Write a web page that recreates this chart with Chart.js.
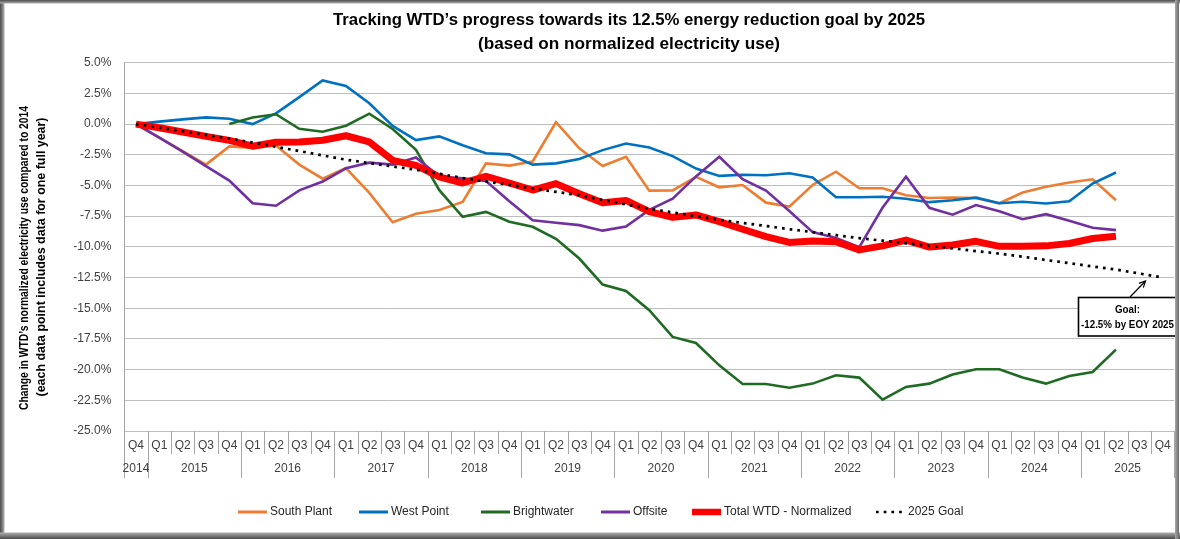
<!DOCTYPE html>
<html>
<head>
<meta charset="utf-8">
<script src="https://cdn.jsdelivr.net/npm/chart.js@4.4.1/dist/chart.umd.min.js"></script>
<style>
html,body{margin:0;padding:0;background:#fff;}
#wrap{width:1180px;height:539px;position:relative;}
canvas{display:block;}
</style>
</head>
<body>
<div id="wrap"><canvas id="c" width="1180" height="539"></canvas></div>
<script>
// ---------- DATA ----------
const years = ['2014','2015','2016','2017','2018','2019','2020','2021','2022','2023','2024','2025'];
const quarterLabels = [
  ['Q4'],
  ['Q1','Q2','Q3','Q4'], ['Q1','Q2','Q3','Q4'], ['Q1','Q2','Q3','Q4'], ['Q1','Q2','Q3','Q4'],
  ['Q1','Q2','Q3','Q4'], ['Q1','Q2','Q3','Q4'], ['Q1','Q2','Q3','Q4'], ['Q1','Q2','Q3','Q4'],
  ['Q1','Q2','Q3','Q4'], ['Q1','Q2','Q3','Q4'], ['Q1','Q2','Q3','Q4']
];
const yTicks = {min: -25, max: 5, step: 2.5};

const southPlant = [0,-1.1,-2.2,-3.3,-1.82,-1.95,-1.75,-3.3,-4.45,-3.58,-5.6,-8.0,-7.3,-7.0,-6.35,-3.2,-3.38,-3.05,0.15,-1.98,-3.42,-2.66,-5.42,-5.4,-4.3,-5.15,-4.96,-6.4,-6.72,-4.96,-3.88,-5.23,-5.23,-5.8,-6.02,-5.98,-6.02,-6.45,-5.58,-5.1,-4.76,-4.5,-6.2,null,null];
const westPoint = [0,0.2,0.38,0.55,0.43,0,0.87,2.2,3.55,3.1,1.7,-0.15,-1.3,-1.0,-1.72,-2.38,-2.47,-3.3,-3.2,-2.85,-2.12,-1.58,-1.9,-2.61,-3.62,-4.22,-4.13,-4.17,-4.01,-4.35,-5.96,-5.96,-5.92,-6.08,-6.36,-6.21,-5.99,-6.45,-6.33,-6.47,-6.28,-4.84,-3.94,null,null];
const brightwater = [null,null,null,null,0,0.53,0.8,-0.38,-0.62,-0.13,0.85,-0.4,-2.1,-5.38,-7.55,-7.15,-7.96,-8.37,-9.35,-10.95,-13.07,-13.6,-15.16,-17.34,-17.83,-19.65,-21.17,-21.17,-21.47,-21.14,-20.46,-20.65,-22.45,-21.41,-21.14,-20.4,-19.97,-19.97,-20.65,-21.14,-20.52,-20.19,-18.37,null,null];
const offsite = [0,-1.1,-2.25,-3.42,-4.6,-6.45,-6.65,-5.4,-4.68,-3.6,-3.14,-3.3,-2.72,-4.28,-4.42,-4.63,-6.28,-7.83,-8.04,-8.23,-8.68,-8.35,-6.99,-6.08,-4.26,-2.66,-4.49,-5.42,-7.08,-8.8,-9.27,-10.03,-6.8,-4.28,-6.82,-7.38,-6.6,-7.1,-7.75,-7.34,-7.88,-8.45,-8.64,null,null];
const totalWTD = [0,-0.3,-0.65,-1.0,-1.33,-1.8,-1.48,-1.45,-1.32,-0.95,-1.45,-2.95,-3.37,-4.3,-4.8,-4.25,-4.8,-5.37,-4.85,-5.68,-6.4,-6.22,-7.13,-7.6,-7.4,-7.95,-8.57,-9.17,-9.64,-9.52,-9.58,-10.25,-9.92,-9.45,-10.02,-9.85,-9.55,-9.96,-9.96,-9.92,-9.73,-9.32,-9.13,null,null];
const goal2025 = [0,-0.28,-0.58,-0.88,-1.18,-1.5,-1.85,-2.2,-2.55,-2.9,-3.17,-3.45,-3.72,-4.05,-4.4,-4.68,-4.95,-5.25,-5.52,-5.8,-6.18,-6.55,-6.9,-7.2,-7.5,-7.8,-8.05,-8.3,-8.56,-8.8,-9.05,-9.29,-9.5,-9.71,-9.92,-10.12,-10.35,-10.55,-10.8,-11.07,-11.33,-11.6,-11.85,-12.17,-12.5];

const seriesNames = ['South Plant','West Point','Brightwater','Offsite','Total WTD - Normalized','2025 Goal'];
const titleLines = ['Tracking WTD\u2019s progress towards its 12.5% energy reduction goal by 2025','(based on normalized electricity use)'];
const yTitleLines = ['Change in WTD\u2019s normalized electricity use compared to 2014','(each data point includes data for one full year)'];
const goalNote = ['Goal:','-12.5% by EOY 2025'];

// ---------- BUILD ----------
const categories = [];
quarterLabels.forEach((qs, j) => qs.forEach(q => categories.push([q, years[j]])));

const COLORS = ['#ED7D31','#0070C0','#1F6B23','#7030A0','#FF0000','#000000'];
const WIDTHS = [2.6,2.6,2.6,2.6,7,2.7];
const values = [southPlant, westPoint, brightwater, offsite, totalWTD, goal2025];

const datasets = values.map((d, k) => ({
  label: seriesNames[k],
  data: d,
  borderColor: COLORS[k],
  backgroundColor: COLORS[k],
  borderWidth: WIDTHS[k],
  borderDash: k === 5 ? [2.7, 5] : [],
  borderCapStyle: 'butt',
  borderJoinStyle: k === 4 ? 'round' : 'miter',
  pointRadius: 0,
  pointHoverRadius: 0,
  tension: 0,
  spanGaps: false,
  fill: false,
  order: 5 - k
}));

const FONT = '"Liberation Sans", Arial, sans-serif';

function fitText(ctx, text, cx, cy, w) {
  const m = ctx.measureText(text).width;
  ctx.save();
  ctx.translate(cx, cy);
  ctx.scale(w / m, 1);
  ctx.fillText(text, 0, 0);
  ctx.restore();
  return w / m;
}

const decor = {
  id: 'decor',
  beforeDraw(chart) {
    const c = chart.ctx;
    c.save(); c.fillStyle = '#fff'; c.fillRect(0, 0, chart.width, chart.height); c.restore();
  },
  afterDraw(chart) {
    const ctx = chart.ctx, xs = chart.scales.x, ca = chart.chartArea;
    ctx.save();
    // x-axis category boxes
    const p0 = xs.getPixelForValue(0), step = xs.getPixelForValue(1) - p0;
    const base = ca.bottom;
    const yearStart = new Set();
    let k = 0;
    quarterLabels.forEach(g => { yearStart.add(k); k += g.length; });
    yearStart.add(k);
    ctx.strokeStyle = '#a6a6a6'; ctx.lineWidth = 1;
    for (let i = 0; i <= categories.length; i++) {
      const bx = Math.round(p0 - step / 2 + i * step) + 0.5;
      const len = yearStart.has(i) ? 47 : 23;
      ctx.beginPath(); ctx.moveTo(bx, base); ctx.lineTo(bx, base + len); ctx.stroke();
    }
    ctx.fillStyle = '#404040';
    ctx.font = '12px ' + FONT;
    ctx.textAlign = 'center'; ctx.textBaseline = 'middle';
    categories.forEach((lab, i) => ctx.fillText(lab[0], xs.getPixelForValue(i), base + 15));
    k = 0;
    quarterLabels.forEach((g, j) => {
      const cx = (xs.getPixelForValue(k) + xs.getPixelForValue(k + g.length - 1)) / 2;
      ctx.fillText(years[j], cx, base + 38);
      k += g.length;
    });

    // title
    ctx.fillStyle = '#000';
    ctx.font = 'bold 17px ' + FONT;
    ctx.textBaseline = 'alphabetic';
    fitText(ctx, titleLines[0], 629, 25, 592);
    fitText(ctx, titleLines[1], 629, 48.5, 302);

    // y-axis title
    ctx.font = 'bold 12px ' + FONT;
    ctx.textBaseline = 'middle';
    const yt = [[25, 258, 304], [42, 257, 279]];
    yTitleLines.forEach((t, i) => {
      ctx.save();
      ctx.translate(yt[i][0], yt[i][1]);
      ctx.rotate(-Math.PI / 2);
      fitText(ctx, t, 0, 0, yt[i][2]);
      ctx.restore();
    });

    // legend
    const starts = [238, 359, 481, 601, 692, 876];
    const ly = 512;
    ctx.font = '12px ' + FONT;
    ctx.textAlign = 'left'; ctx.textBaseline = 'middle';
    seriesNames.forEach((name, i) => {
      const x0 = starts[i];
      ctx.save();
      ctx.strokeStyle = COLORS[i];
      ctx.lineWidth = i === 4 ? 6.5 : (i === 5 ? 2.7 : 3);
      ctx.setLineDash(i === 5 ? [2.7, 5] : []);
      ctx.beginPath(); ctx.moveTo(x0, ly); ctx.lineTo(x0 + 29, ly); ctx.stroke();
      ctx.restore();
      ctx.fillStyle = '#262626';
      ctx.fillText(name, x0 + 32, ly);
    });

    // goal annotation
    ctx.strokeStyle = '#000'; ctx.lineWidth = 1.2;
    const ax0 = 1130, ay0 = 297, ax1 = 1145.5, ay1 = 281;
    ctx.beginPath(); ctx.moveTo(ax0, ay0); ctx.lineTo(ax1, ay1); ctx.stroke();
    const ang = Math.atan2(ay1 - ay0, ax1 - ax0), hl = 7;
    ctx.beginPath();
    ctx.moveTo(ax1 - hl * Math.cos(ang - 0.45), ay1 - hl * Math.sin(ang - 0.45));
    ctx.lineTo(ax1, ay1);
    ctx.lineTo(ax1 - hl * Math.cos(ang + 0.45), ay1 - hl * Math.sin(ang + 0.45));
    ctx.stroke();
    ctx.fillStyle = '#fff';
    ctx.fillRect(1078.5, 297.5, 98, 38.5);
    ctx.lineWidth = 1.6;
    ctx.strokeRect(1078.5, 297.5, 98, 38.5);
    ctx.fillStyle = '#000';
    ctx.font = 'bold 11px ' + FONT;
    ctx.textAlign = 'center';
    const m2 = ctx.measureText(goalNote[1]).width;
    const sc = 93 / m2;
    fitText(ctx, goalNote[0], 1127.5, 309.5, ctx.measureText(goalNote[0]).width * sc);
    fitText(ctx, goalNote[1], 1127.5, 324.5, 93);

    // outer frame
    const W = chart.width, H = chart.height;
    let g = ctx.createLinearGradient(0, 0, 4.5, 0);
    g.addColorStop(0, '#4a4a4a'); g.addColorStop(1, '#b0b0b0');
    ctx.fillStyle = g; ctx.fillRect(0, 0, 4.5, H);
    g = ctx.createLinearGradient(0, 0, 0, 3.5);
    g.addColorStop(0, '#4a4a4a'); g.addColorStop(1, '#b0b0b0');
    ctx.fillStyle = g; ctx.fillRect(0, 0, W, 3.5);
    g = ctx.createLinearGradient(0, H, 0, H - 6.5);
    g.addColorStop(0, '#4a4a4a'); g.addColorStop(1, '#b0b0b0');
    ctx.fillStyle = g; ctx.fillRect(0, H - 6.5, W, 6.5);
    g = ctx.createLinearGradient(1179, 0, 1175, 0);
    g.addColorStop(0, '#6a6a6a'); g.addColorStop(1, '#a8a8a8');
    ctx.fillStyle = g; ctx.fillRect(1175, 0, 4, H);
    ctx.restore();
  }
};

new Chart(document.getElementById('c'), {
  type: 'line',
  data: { labels: categories.map(c => c[0] + ' ' + c[1]), datasets },
  options: {
    responsive: false,
    animation: false,
    devicePixelRatio: 1,
    layout: { padding: { top: 62.7, right: 5.7, left: 0, bottom: 0 } },
    plugins: { legend: { display: false }, title: { display: false }, tooltip: { enabled: false } },
    scales: {
      x: {
        offset: true,
        grid: { display: false },
        border: { display: false },
        ticks: { display: false },
        afterFit: s => { s.height = 108; }
      },
      y: {
        min: yTicks.min, max: yTicks.max,
        ticks: {
          stepSize: yTicks.step,
          callback: v => v.toFixed(1) + '%',
          font: { family: '"Liberation Sans", Arial, sans-serif', size: 12 },
          color: '#404040',
          padding: 13
        },
        grid: { color: '#bdbdbd', lineWidth: 1, drawTicks: false },
        border: { display: true, color: '#a6a6a6', width: 1 },
        afterFit: s => { s.width = 124.3; }
      }
    }
  },
  plugins: [decor]
});
</script>
</body>
</html>
